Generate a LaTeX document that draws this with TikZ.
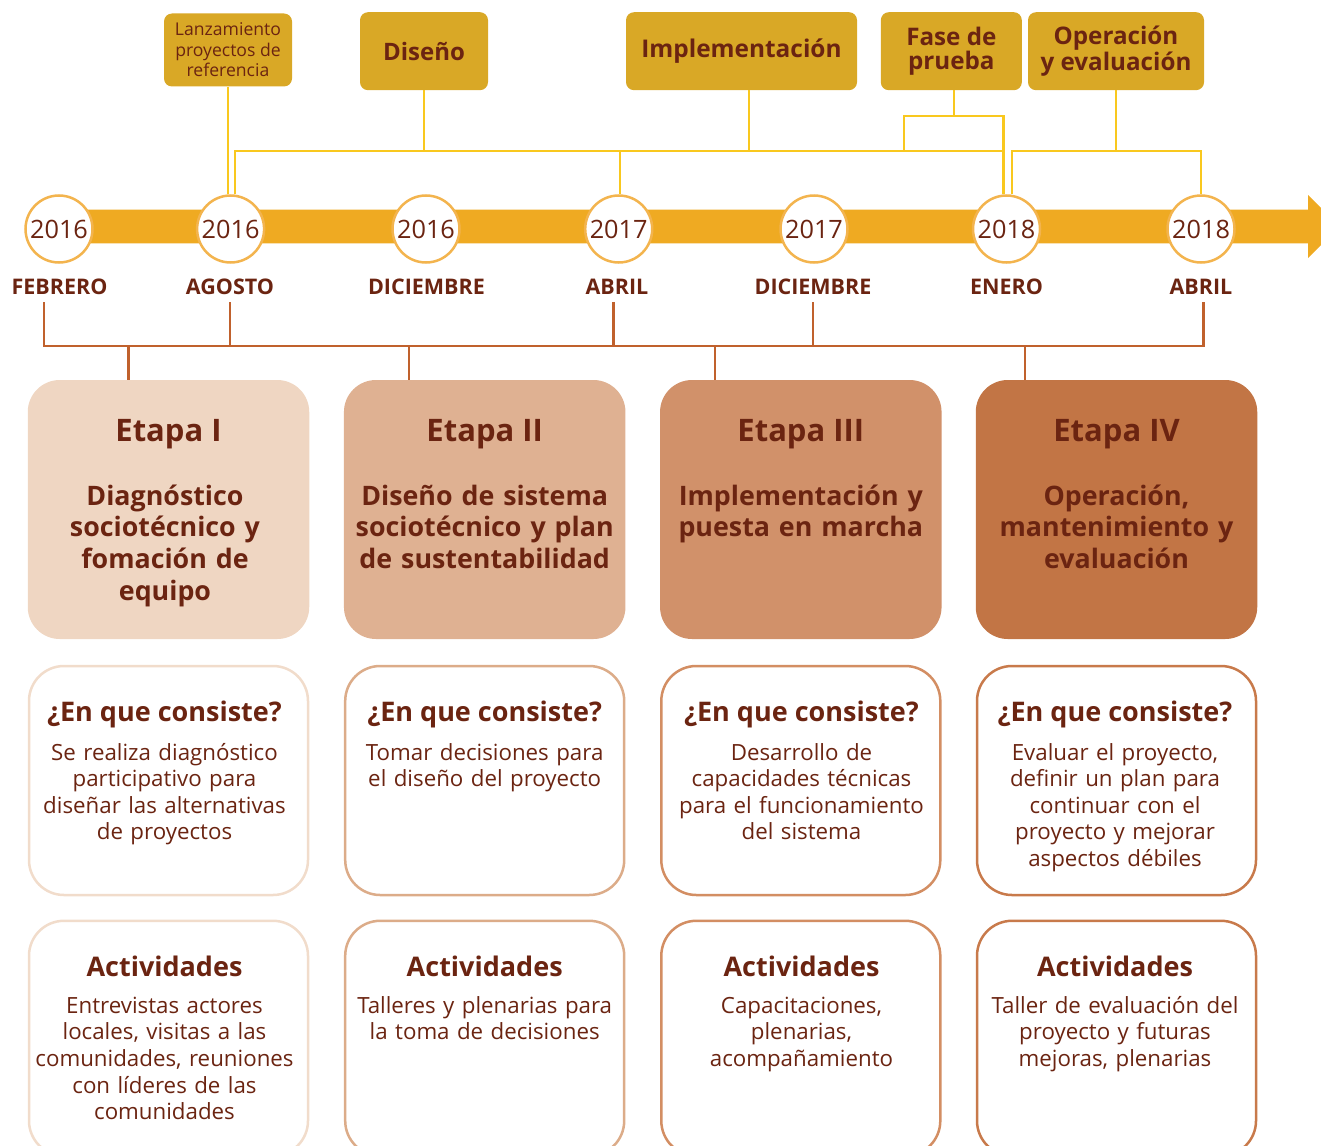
\documentclass[tikz,border=0pt]{standalone}
\usepackage{fontspec}
\setmainfont{Open Sans}
\usetikzlibrary{calc}

\definecolor{oro}{HTML}{D9A826}
\definecolor{amarillo}{HTML}{F9C81E}
\definecolor{barra}{HTML}{EFAA22}
\definecolor{aro}{HTML}{F3B44E}
\definecolor{cafe}{HTML}{6B2411}
\definecolor{ladrillo}{HTML}{C0612D}
\definecolor{etI}{HTML}{EFD6C2}
\definecolor{etII}{HTML}{DFB192}
\definecolor{etIII}{HTML}{D1916A}
\definecolor{etIV}{HTML}{C27545}
\definecolor{bdI}{HTML}{F1DCCB}
\definecolor{bdII}{HTML}{DCAC89}
\definecolor{bdIII}{HTML}{D38E63}
\definecolor{bdIV}{HTML}{C87A4B}

\newcommand{\fs}[2]{\fontsize{#1}{#2}\selectfont}

\tikzset{
  hito/.style={fill=oro, rounded corners=8, text=cafe, align=center, inner sep=0, minimum height=78},
  anio/.style={circle, draw=aro, line width=2.5, fill=white, minimum size=67, inner sep=0, text=cafe, font=\fs{25.3}{25}},
  mes/.style={text=cafe, font=\bfseries\fs{21.5}{22}, inner sep=0},
  etapa/.style={rounded corners=32, minimum width=281.5, minimum height=259, inner sep=0},
  caja/.style={draw=#1, fill=white, line width=2.5, rounded corners=35, minimum width=279, inner sep=0},
  titulo/.style={text=cafe, font=\bfseries\fs{#1}{#1}, anchor=base, inner sep=0},
  cuerpo/.style={text=cafe, text width=279, align=center, anchor=base, inner sep=0},
  yline/.style={draw=amarillo, line width=2.2},
  bline/.style={draw=ladrillo, line width=2.2},
}

\begin{document}
\begin{tikzpicture}[x=1pt, y=-1pt]
\clip (0,0) rectangle (1321,1145);
% Hitos
\node[hito, minimum width=128, minimum height=73, font=\fs{17.6}{20.5}] (lanz) at (228,50) {Lanzamiento\\proyectos de\\referencia};
\node[hito, minimum width=128, font=\bfseries\fs{24}{24}] (dis) at (424,51.2) {Diseño};
\node[hito, minimum width=231, font=\bfseries\fs{24.4}{24}] (impl) at (741.5,51.2) {Implementación};
\node[hito, minimum width=141, font=\bfseries\fs{24.2}{23.5}] (fase) at (951.3,51.2) {Fase de\\prueba};
\node[hito, minimum width=176, font=\bfseries\fs{24.2}{23.5}] (oper) at (1116,51.2) {Operación\\y evaluación};
% Linea de tiempo
\coordinate (fin) at (1340,226.5);
\fill[barra] (59,209.7) -- (1308,209.7) -- (1308,195) -- (fin) -- (1308,258) -- (1308,243.3) -- (59,243.3) -- cycle;
\node[anio] (y1) at (59,229) {2016};
\node[anio] (y2) at (230.6,229) {2016};
\node[anio] (y3) at (426,229) {2016};
\node[anio] (y4) at (618.7,229) {2017};
\node[anio] (y5) at (814,229) {2017};
\node[anio] (y6) at (1006.5,229) {2018};
\node[anio] (y7) at (1201,229) {2018};
\node[mes] (m1) at (59.5,287) {FEBRERO};
\node[mes] (m2) at (230,287) {AGOSTO};
\node[mes] (m3) at (426.5,287) {DICIEMBRE};
\node[mes] (m4) at (617,287) {ABRIL};
\node[mes] (m5) at (813,287) {DICIEMBRE};
\node[mes] (m6) at (1006.5,287) {ENERO};
\node[mes] (m7) at (1201,287) {ABRIL};
% Lineas amarillas
\coordinate (rail) at (0,151);
\coordinate (nudo) at (0,116);
\draw[yline] (lanz.south) -- (lanz.south |- y2.north);
\draw[yline] ([xshift=4.5]y2.north) |- ([xshift=-3]y6.north |- rail);
\draw[yline] ([xshift=1.3]y4.north) -- ([xshift=1.3]y4.north |- rail);
\draw[yline] (dis.south) -- (dis.south |- rail);
\draw[yline] ([xshift=7.5]impl.south) -- ([xshift=7.5]impl.south |- rail);
\draw[yline] ([xshift=2.5]fase.south) -- ([xshift=2.5]fase.south |- nudo);
\draw[yline] ([xshift=-47.6]fase.south |- rail) |- ([xshift=-3]y6.north |- nudo) -- ([xshift=-3]y6.north);
\draw[yline] (oper.south) -- (oper.south |- rail);
\draw[yline] ([xshift=5.5]y6.north) |- (y7.north |- rail) -- (y7.north);
% Etapas
\node[etapa, fill=etI] (e1) at (168.5,509.5) {};
\node[etapa, fill=etII] (e2) at (484.7,509.5) {};
\node[etapa, fill=etIII] (e3) at (800.8,509.5) {};
\node[etapa, fill=etIV] (e4) at (1116.5,509.5) {};
\node[titulo=31] (t1) at (168.5,441) {Etapa I};
\node[titulo=31] (t2) at (484.7,441) {Etapa II};
\node[titulo=31] (t3) at (800.8,441) {Etapa III};
\node[titulo=31] (t4) at (1116.5,441) {Etapa IV};
\node[cuerpo, font=\bfseries\fs{26.8}{31.7}] (s1) at (165,505) {Diagnóstico\\sociotécnico y\\fomación de\\equipo};
\node[cuerpo, font=\bfseries\fs{26.8}{31.7}] (s2) at (484.7,505) {Diseño de sistema\\sociotécnico y plan\\de sustentabilidad};
\node[cuerpo, font=\bfseries\fs{26.8}{31.7}] (s3) at (800.8,505) {Implementación y\\puesta en marcha};
\node[cuerpo, font=\bfseries\fs{26.8}{31.7}] (s4) at (1116.5,505) {Operación,\\mantenimiento y\\evaluación};
% Corchete
\coordinate (bk) at (0,346);
\draw[bline] ([xshift=-15.5,yshift=-7]m1.south) |- ([xshift=2.4]m7.south |- bk) -- ([xshift=2.4,yshift=-7]m7.south);
\draw[bline] ([yshift=-7]m2.south) -- (m2.south |- bk);
\draw[bline] ([xshift=-3.5,yshift=-7]m4.south) -- ([xshift=-3.5]m4.south |- bk);
\draw[bline] ([yshift=-7]m5.south) -- (m5.south |- bk);
\draw[bline] ([xshift=-40]e1.north |- bk) -- ([xshift=-40]e1.north);
\draw[bline] ([xshift=-75.7]e2.north |- bk) -- ([xshift=-75.7]e2.north);
\draw[bline] ([xshift=-85.8]e3.north |- bk) -- ([xshift=-85.8]e3.north);
\draw[bline] ([xshift=-91.5]e4.north |- bk) -- ([xshift=-91.5]e4.north);
% En que consiste
\node[caja=bdI, minimum height=229] (c1) at (168.5,780.5) {};
\node[caja=bdII, minimum height=229] (c2) at (484.7,780.5) {};
\node[caja=bdIII, minimum height=229] (c3) at (800.8,780.5) {};
\node[caja=bdIV, minimum height=229] (c4) at (1116.5,780.5) {};
\node[titulo=27] at (164.5,721.7) {¿En que consiste?};
\node[titulo=27] at (484.7,721.7) {¿En que consiste?};
\node[titulo=27] at (801.5,721.7) {¿En que consiste?};
\node[titulo=27] at (1115,721.7) {¿En que consiste?};
\node[cuerpo, font=\fs{22.3}{26.5}] at (164.5,760) {Se realiza diagnóstico\\participativo para\\diseñar las alternativas\\de proyectos};
\node[cuerpo, font=\fs{22.3}{26.5}] at (484.7,760) {Tomar decisiones para\\el diseño del proyecto};
\node[cuerpo, font=\fs{22.3}{26.5}] at (801.5,760) {Desarrollo de\\capacidades técnicas\\para el funcionamiento\\del sistema};
\node[cuerpo, font=\fs{22.3}{26.5}] at (1115,760) {Evaluar el proyecto,\\definir un plan para\\continuar con el\\proyecto y mejorar\\aspectos débiles};
% Actividades
\node[caja=bdI, minimum height=235] (a1) at (168.5,1038.3) {};
\node[caja=bdII, minimum height=235] (a2) at (484.7,1038.3) {};
\node[caja=bdIII, minimum height=235] (a3) at (800.8,1038.3) {};
\node[caja=bdIV, minimum height=235] (a4) at (1116.5,1038.3) {};
\node[titulo=27] at (164.5,976.7) {Actividades};
\node[titulo=27] at (484.7,976.7) {Actividades};
\node[titulo=27] at (801.5,976.7) {Actividades};
\node[titulo=27] at (1115,976.7) {Actividades};
\node[cuerpo, font=\fs{22.3}{26.7}] at (164.5,1013) {Entrevistas actores\\locales, visitas a las\\comunidades, reuniones\\con líderes de las\\comunidades};
\node[cuerpo, font=\fs{22.3}{26.7}] at (484.7,1013) {Talleres y plenarias para\\la toma de decisiones};
\node[cuerpo, font=\fs{22.3}{26.7}] at (801.5,1013) {Capacitaciones,\\plenarias,\\acompañamiento};
\node[cuerpo, font=\fs{22.3}{26.7}] at (1115,1013) {Taller de evaluación del\\proyecto y futuras\\mejoras, plenarias};
\end{tikzpicture}
\end{document}
